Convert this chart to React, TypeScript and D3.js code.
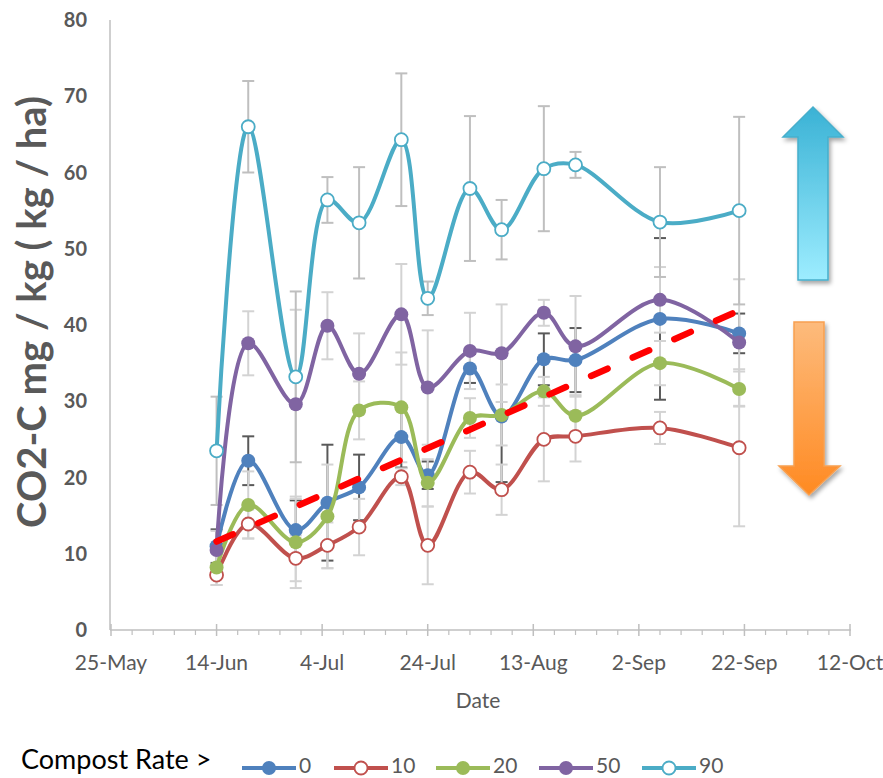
import React from "react";
import * as d3 from "d3";

// ---------- data ----------
const sampleDates = [
  "2015-06-14", "2015-06-20", "2015-06-29", "2015-07-05", "2015-07-11", "2015-07-19",
  "2015-07-24", "2015-08-01", "2015-08-07", "2015-08-15", "2015-08-21", "2015-09-06", "2015-09-21",
];
const seriesNames = ["0", "10", "20", "50", "90"];
const rate0 = [11.0, 22.2, 13.1, 16.7, 18.7, 25.3, 20.3, 34.3, 28.0, 35.5, 35.4, 40.8, 38.9];
const err0 = [2.2, 3.2, 3.9, 7.6, 4.3, 4.0, 1.8, 1.9, 8.6, 3.4, 4.2, 10.6, 2.6];
const rate10 = [7.2, 13.9, 9.4, 11.1, 13.5, 20.1, 11.1, 20.7, 18.4, 25.0, 25.4, 26.5, 23.9];
const err10 = [1.3, 1.9, 3.0, 3.0, 3.7, 1.1, 5.1, 2.8, 3.3, 5.5, 3.3, 2.1, 10.3];
const rate20 = [8.2, 16.4, 11.5, 14.9, 28.8, 29.2, 19.3, 27.8, 28.2, 31.3, 28.1, 35.0, 31.6];
const err20 = [2.3, 4.4, 6.0, 6.8, 3.8, 7.2, 3.1, 2.6, 4.0, 1.9, 2.7, 2.9, 2.3];
const rate50 = [10.5, 37.6, 29.6, 39.9, 33.6, 41.4, 31.8, 36.6, 36.3, 41.6, 37.2, 43.3, 37.7];
const err50 = [2.5, 4.2, 12.4, 4.4, 5.3, 6.6, 7.5, 5.0, 6.4, 1.7, 6.6, 4.3, 8.3];
const rate90 = [23.5, 66.0, 33.2, 56.4, 53.4, 64.3, 43.5, 57.9, 52.5, 60.5, 61.0, 53.5, 55.0];
const err90 = [7.1, 6.0, 11.2, 3.0, 7.3, 8.7, 2.2, 9.5, 3.9, 8.2, 1.7, 7.2, 12.3];
const trendDates = ["2015-06-14", "2015-09-21"];
const trendValues = [11.6, 41.9];
const xTickDates = ["2015-05-25", "2015-06-14", "2015-07-04", "2015-07-24", "2015-08-13", "2015-09-02", "2015-09-22", "2015-10-12"];
const xTickLabels = ["25-May", "14-Jun", "4-Jul", "24-Jul", "13-Aug", "2-Sep", "22-Sep", "12-Oct"];
const yTicks = [0, 10, 20, 30, 40, 50, 60, 70, 80];

// ---------- styling ----------
const colors = ["#4F81BD", "#C0504D", "#9BBB59", "#8064A2", "#4BACC6"];
const hollow = [false, true, false, false, true];
const errColors = ["#595959", "#D3D3D3", "#D3D3D3", "#D3D3D3", "#BFBFBF"];
const FONT = "Lato, 'Open Sans', sans-serif";

const parse = d3.timeParse("%Y-%m-%d");

export default function App() {
  const W = 883, H = 778;
  const dates = sampleDates.map((s) => parse(s) as Date);
  const tickD = xTickDates.map((s) => parse(s) as Date);
  const x = d3.scaleTime().domain([tickD[0], tickD[tickD.length - 1]]).range([111, 850]);
  const y = d3.scaleLinear().domain([0, 80]).range([630, 20]);

  const values = [rate0, rate10, rate20, rate50, rate90];
  const errs = [err0, err10, err20, err50, err90];

  const line = d3
    .line<number>()
    .x((_, i) => x(dates[i]))
    .y((v) => y(v))
    .curve(d3.curveCatmullRom.alpha(0.5));

  // minor ticks every 4 days
  const minorTicks: Date[] = [];
  for (let i = 0; i < tickD.length - 1; i++) {
    for (let k = 1; k < 5; k++) minorTicks.push(d3.timeDay.offset(tickD[i], k * 4));
  }

  const trendD = trendDates.map((s) => parse(s) as Date);
  const y0 = y(0);

  const legendX = [242, 334, 436, 539, 642];

  return (
    <svg width={W} height={H} style={{ position: "absolute", left: 0, top: 0, background: "#fff" }} fontFamily={FONT}>
      <defs>
        <linearGradient id="gUp" x1="0" y1="0" x2="0" y2="1">
          <stop offset="0" stopColor="#3AB2D5" />
          <stop offset="1" stopColor="#9DEDFF" />
        </linearGradient>
        <linearGradient id="gDown" x1="0" y1="0" x2="0" y2="1">
          <stop offset="0" stopColor="#FDBB7C" />
          <stop offset="1" stopColor="#FF8A22" />
        </linearGradient>
        <filter id="shadow" x="-30%" y="-10%" width="160%" height="130%">
          <feDropShadow dx="2" dy="3" stdDeviation="2" floodColor="#000" floodOpacity="0.35" />
        </filter>
      </defs>

      {/* axes */}
      <line x1={110} x2={110} y1={20} y2={y0} stroke="#BFBFBF" strokeWidth={1.5} />
      <line x1={110} x2={851} y1={y0} y2={y0} stroke="#BFBFBF" strokeWidth={1.5} />
      {tickD.map((d, i) => (
        <line key={"mt" + i} x1={x(d)} x2={x(d)} y1={y0 - 6} y2={y0 + 6} stroke="#BFBFBF" strokeWidth={1.5} />
      ))}
      {minorTicks.map((d, i) => (
        <line key={"mi" + i} x1={x(d)} x2={x(d)} y1={y0} y2={y0 + 5} stroke="#BFBFBF" strokeWidth={1.2} />
      ))}
      {yTicks.map((t) => (
        <text key={"yt" + t} x={87} y={y(t)} dy="0.36em" textAnchor="end" fontSize={20} fontWeight={700} fill="#595959">
          {t}
        </text>
      ))}
      {tickD.map((d, i) => (
        <text key={"xt" + i} x={x(d)} y={670} textAnchor="middle" fontSize={21} fill="#595959">
          {xTickLabels[i]}
        </text>
      ))}
      <text x={478} y={708} textAnchor="middle" fontSize={21} fill="#595959">Date</text>
      <text
        transform={`translate(46,${312}) rotate(-90)`}
        textAnchor="middle"
        fontSize={40}
        fontWeight={700}
        fill="#595959"
      >
        CO2-C mg / kg ( kg / ha)
      </text>

      {/* error bars */}
      {values.map((vals, s) => (
        <g key={"eb" + s} stroke={errColors[s]} strokeWidth={2}>
          {vals.map((v, i) => {
            const cx = x(dates[i]);
            const hi = y(v + errs[s][i]);
            const lo = y(v - errs[s][i]);
            return (
              <g key={i}>
                <line x1={cx} x2={cx} y1={hi} y2={lo} />
                <line x1={cx - 6} x2={cx + 6} y1={hi} y2={hi} />
                <line x1={cx - 6} x2={cx + 6} y1={lo} y2={lo} />
              </g>
            );
          })}
        </g>
      ))}

      {/* series */}
      {values.map((vals, s) => (
        <g key={"s" + s}>
          <path d={line(vals) || ""} fill="none" stroke={colors[s]} strokeWidth={4} strokeLinejoin="round" />
          {vals.map((v, i) =>
            hollow[s] ? (
              <circle key={i} cx={x(dates[i])} cy={y(v)} r={6.5} fill="#fff" stroke={colors[s]} strokeWidth={1.8} />
            ) : (
              <circle key={i} cx={x(dates[i])} cy={y(v)} r={7} fill={colors[s]} />
            )
          )}
        </g>
      ))}

      {/* trend */}
      <line
        x1={x(trendD[0])}
        y1={y(trendValues[0])}
        x2={x(trendD[1])}
        y2={y(trendValues[1])}
        stroke="#FF0000"
        strokeWidth={6.5}
        strokeDasharray="18 27.5"
        strokeLinecap="round"
      />

      {/* arrows */}
      <path
        d="M813,107 L843,137 L828,137 L828,280 L798,280 L798,137 L783,137 Z"
        fill="url(#gUp)"
        stroke="#46AECB"
        strokeWidth={1.5}
        filter="url(#shadow)"
      />
      <path
        d="M794,322 L824,322 L824,466 L840,466 L809,495 L779,466 L794,466 Z"
        fill="url(#gDown)"
        stroke="#F8A050"
        strokeWidth={1.5}
        filter="url(#shadow)"
      />

      {/* legend */}
      <text x={21} y={769} fontSize={27} fill="#000">Compost Rate &gt;</text>
      {seriesNames.map((n, s) => (
        <g key={"lg" + s}>
          <line x1={legendX[s]} x2={legendX[s] + 54} y1={768} y2={768} stroke={colors[s]} strokeWidth={4} />
          {hollow[s] ? (
            <circle cx={legendX[s] + 27} cy={768} r={6.5} fill="#fff" stroke={colors[s]} strokeWidth={1.8} />
          ) : (
            <circle cx={legendX[s] + 27} cy={768} r={7} fill={colors[s]} />
          )}
          <text x={legendX[s] + 57} y={773} fontSize={21} fill="#595959">{n}</text>
        </g>
      ))}
    </svg>
  );
}
